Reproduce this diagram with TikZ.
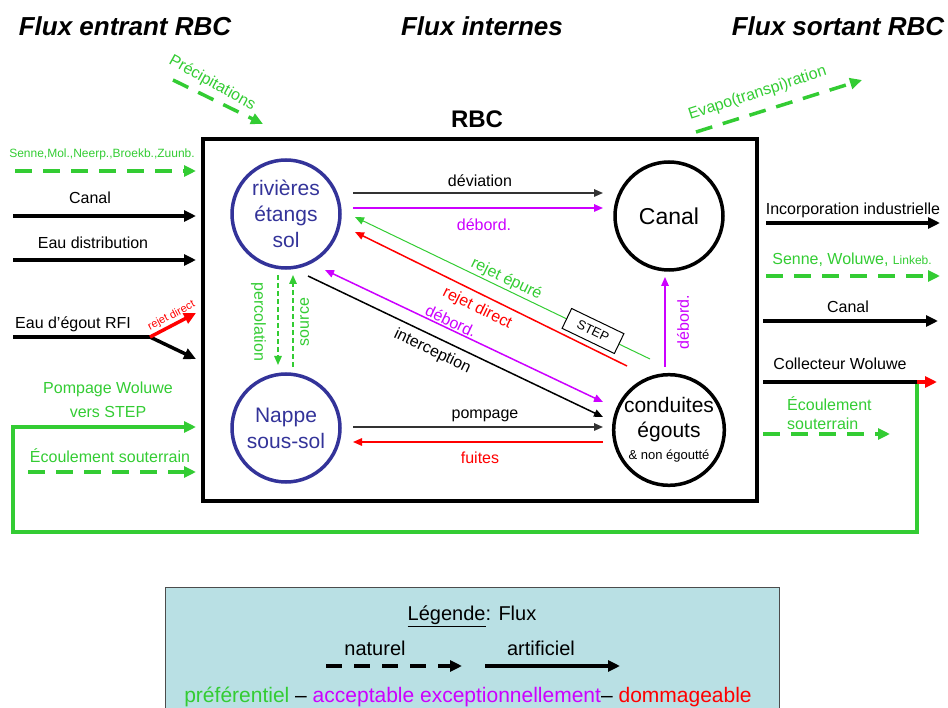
\documentclass[tikz,border=0pt]{standalone}
\usepackage{fontspec}
\setmainfont{Liberation Sans}
\usetikzlibrary{arrows.meta,calc}
\definecolor{flgreen}{RGB}{51,204,51}
\definecolor{flmag}{RGB}{204,0,255}
\definecolor{flred}{RGB}{255,0,0}
\definecolor{flnavy}{RGB}{51,51,153}
\definecolor{legfill}{RGB}{185,224,228}
\newcommand\fsz[2]{\fontsize{#1}{#2}\selectfont}

\begin{document}
\begin{tikzpicture}[x=1pt, y=-1pt,
  lbl/.style={font=\fsz{16}{19}, inner sep=0pt, text height=11.5pt, text depth=0pt},
  smalllbl/.style={font=\fsz{12}{14}, inner sep=0pt, text height=8.6pt, text depth=0pt},
  tinylbl/.style={font=\fsz{11}{13}, inner sep=0pt, text height=7.9pt, text depth=0pt},
  leglbl/.style={font=\fsz{20}{24}, inner sep=0pt, text height=14.4pt, text depth=0pt},
  ttl/.style={font=\fsz{26}{30}\bfseries\itshape, inner sep=0pt, text height=18.7pt, text depth=0pt},
  ring/.style={circle, line width=3.5pt, minimum size=108pt, inner sep=0pt, align=center},
  thk/.style={line width=3.5pt, line join=miter, -{Triangle[length=12pt,width=11pt]}},
  thkdash/.style={thk, dash pattern=on 17pt off 11pt},
  thn/.style={line width=1.5pt, -{Triangle[length=9pt,width=7.5pt]}},
  thndash/.style={thn, dash pattern=on 5pt off 3pt},
]
\useasboundingbox (0,0) rectangle (948,708);

% column headings
\node[ttl] (tin)  at (125,26) {Flux entrant RBC};
\node[ttl] (tint) at (482,26) {Flux internes};
\node[ttl] (tout) at (838,26) {Flux sortant RBC};

% region frame
\node[draw, line width=4pt, minimum width=554pt, minimum height=362pt, inner sep=0pt] (rbc) at (480,320) {};
\node[font=\fsz{24}{28}\bfseries, inner sep=0pt, text height=17.3pt, text depth=0pt] (rbclbl) at (477,119) {RBC};

% compartments
\node[ring, draw=flnavy, text=flnavy, font=\fsz{21}{26}] (riv) at (286,214) {rivières\\étangs\\sol};
\node[ring, draw=flnavy, text=flnavy, font=\fsz{21}{26}] (nap) at (286,428) {Nappe\\sous-sol};
\node[ring, draw=black, font=\fsz{23}{27}] (can) at (669,216) {Canal};
\node[ring, draw=black, font=\fsz{21}{25}] (cond) at (669,430) {conduites\\égouts\\[-3pt]{\fsz{13}{15}\& non égoutté}};

% atmosphere
\coordinate (pr-a) at (173,80);
\coordinate (pr-b) at (263,124);
\draw[thkdash, flgreen] (pr-a) -- (pr-b);
\node[lbl, text=flgreen, rotate=-29] (prlbl) at (213,82) {Précipitations};
\coordinate (ev-a) at (696,132);
\coordinate (ev-b) at (862,80);
\draw[thkdash, flgreen] (ev-a) -- (ev-b);
\node[lbl, text=flgreen, rotate=18] (evlbl) at (757,92) {Evapo(transpi)ration};

% incoming flows
\node[smalllbl, text=flgreen] (in1) at (102,153) {Senne,Mol.,Neerp.,Broekb.,Zuunb.};
\coordinate (in1a) at (15,171);
\coordinate (in1b) at (196,171);
\draw[thkdash, flgreen] (in1a) -- (in1b);

\node[lbl] (in2) at (90,198) {Canal};
\coordinate (in2a) at (13,216);
\coordinate (in2b) at (196,216);
\draw[thk] (in2a) -- (in2b);

\node[lbl] (in3) at (93,243) {Eau distribution};
\coordinate (in3a) at (13,260);
\coordinate (in3b) at (196,260);
\draw[thk] (in3a) -- (in3b);

\node[lbl, anchor=west] (in4) at (15,323) {Eau d’égout RFI};
\coordinate (in4a) at (13,337);
\coordinate (in4s) at (150,337);
\coordinate (in4r) at (196,313);
\coordinate (in4b) at (196,359);
\draw[line width=3.5pt] (in4a) -- (in4s);
\draw[thk] (in4s) -- (in4b);
\draw[thk, flred] (in4s) -- (in4r);
\node[tinylbl, text=flred, rotate=28] (in4rl) at (171,315) {rejet direct};

\node[lbl, text=flgreen] (in5a) at (108,388) {Pompage Woluwe};
\node[lbl, text=flgreen] (in5b) at (108,412) {vers STEP};
\node[lbl, text=flgreen] (in6) at (110,457) {Écoulement souterrain};
\coordinate (in6a) at (28,472);
\coordinate (in6b) at (196,472);
\draw[thkdash, flgreen] (in6a) -- (in6b);

% Woluwe collector loop back to the treatment plant
\coordinate (cw-s) at (917,382);
\coordinate (loop1) at (917,532);
\coordinate (loop2) at (13,532);
\coordinate (loop3) at (13,427);
\coordinate (in5e) at (196,427);
\draw[thk, flgreen] (cw-s) -- (loop1) -- (loop2) -- (loop3) -- (in5e);

% outgoing flows
\node[lbl] (out1) at (853,209) {Incorporation industrielle};
\coordinate (out1a) at (766,223);
\coordinate (out1b) at (940,223);
\draw[thk] (out1a) -- (out1b);

\node[lbl, text=flgreen] (out2) at (852,259) {Senne, Woluwe, {\fsz{12}{14}Linkeb.}};
\coordinate (out2a) at (766,276);
\coordinate (out2b) at (940,276);
\draw[thkdash, flgreen] (out2a) -- (out2b);

\node[lbl] (out3) at (848,307) {Canal};
\coordinate (out3a) at (763,321);
\coordinate (out3b) at (938,321);
\draw[thk] (out3a) -- (out3b);

\node[lbl] (out4) at (840,364) {Collecteur Woluwe};
\coordinate (cw-a) at (763,382);
\coordinate (cw-b) at (937,382);
\draw[line width=3.5pt] (cw-a) -- (cw-s);
\draw[thk, flred] (cw-s) -- (cw-b);

\node[lbl, text=flgreen, anchor=west] (out5a) at (787,405) {Écoulement};
\node[lbl, text=flgreen, anchor=west] (out5b) at (787,424) {souterrain};
\coordinate (out5s) at (763,434);
\coordinate (out5e) at (890,434);
\draw[thkdash, flgreen] (out5s) -- (out5e);

% internal flows
\draw[thn, black!80] ([shift={(67,-21)}]riv.center) -- ([shift={(-66,-23)}]can.center);
\node[lbl] (devl) at (480,181) {déviation};
\draw[thn, flmag] ([shift={(67,-6)}]riv.center) -- ([shift={(-66,-8)}]can.center);
\node[lbl, text=flmag] (deb1l) at (484,225) {débord.};

\draw[thn, flgreen, line width=1pt] ([shift={(-19,-71)}]cond.center) -- ([shift={(69,3)}]riv.center);
\node[lbl, text=flgreen, rotate=-25.7] (epl) at (507,278) {rejet épuré};
\node[draw, line width=1pt, fill=white, rotate=-25.7, font=\fsz{13}{15}, minimum width=58pt, minimum height=22pt, inner sep=0pt] (step) at (593,331) {STEP};

\draw[thn, flred] ([shift={(-42,-64)}]cond.center) -- ([shift={(69,18)}]riv.center);
\node[lbl, text=flred, rotate=-26.2] (rdl) at (478,307) {rejet direct};

\draw[thn, flmag, {Triangle[length=9pt,width=7.5pt]}-{Triangle[length=9pt,width=7.5pt]}] ([shift={(39,56)}]riv.center) -- ([shift={(-66,-28)}]cond.center);
\node[lbl, text=flmag, rotate=-25.4] (deb2l) at (451,321) {débord.};

\draw[thn] ([shift={(22,62)}]riv.center) -- ([shift={(-66,-13)}]cond.center);
\node[lbl, rotate=-25.5] (intl) at (433,350) {interception};

\draw[thn, black!80] ([shift={(67,-1)}]nap.center) -- ([shift={(-66,-3)}]cond.center);
\node[lbl] (pompl) at (485,413) {pompage};
\draw[thn, flred] ([shift={(-66,12)}]cond.center) -- ([shift={(67,14)}]nap.center);
\node[lbl, text=flred] (fuil) at (480,458) {fuites};

\draw[thndash, flgreen] ([shift={(-8,61)}]riv.center) -- ([shift={(-8,-63)}]nap.center);
\node[lbl, text=flgreen, rotate=-90] (percl) at (260,322) {percolation};
\draw[thndash, flgreen] ([shift={(7,-61)}]nap.center) -- ([shift={(7,61)}]riv.center);
\node[lbl, text=flgreen, rotate=90] (srcl) at (303,322) {source};

\draw[thn, flmag] ([shift={(-4,-63)}]cond.center) -- ([shift={(-4,61)}]can.center);
\node[lbl, text=flmag, rotate=90] (deb3l) at (683,322) {débord.};

% legend
\node[draw=black!70, line width=1pt, fill=legfill, minimum width=614pt, minimum height=126pt, inner sep=0pt, anchor=north west] (leg) at (165,587) {};
\node[leglbl] (legt) at (472,613) {\underline{Légende}: Flux};
\node[leglbl] (legn) at (375,648) {naturel};
\node[leglbl] (lega) at (541,648) {artificiel};
\coordinate (legn-a) at (326,666);
\coordinate (legn-b) at (462,666);
\coordinate (lega-a) at (485,666);
\coordinate (lega-b) at (620,666);
\draw[thk, dash pattern=on 16pt off 12pt] (legn-a) -- (legn-b);
\draw[thk] (lega-a) -- (lega-b);
\node[font=\fsz{21}{25}, inner sep=0pt, text height=15.1pt, text depth=0pt] (legc) at (468,695)
  {\textcolor{flgreen}{préférentiel} – \textcolor{flmag}{acceptable exceptionnellement}– \textcolor{flred}{dommageable}};
\end{tikzpicture}
\end{document}
